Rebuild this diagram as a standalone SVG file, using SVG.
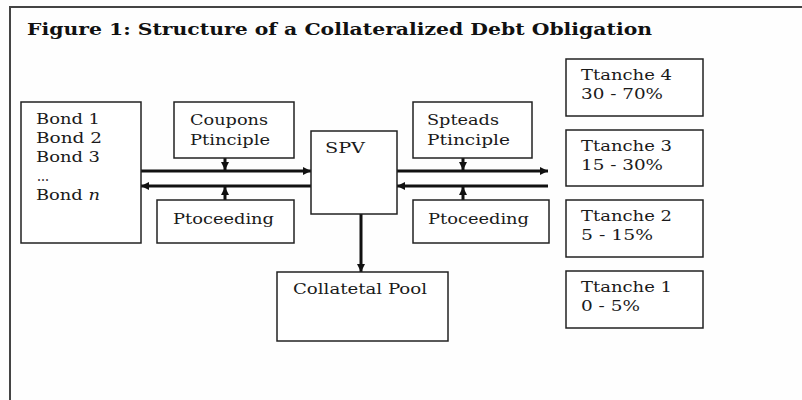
<svg xmlns="http://www.w3.org/2000/svg" width="802" height="400" viewBox="0 0 802 400">
<defs>
<style>
.box{fill:#fff;stroke:#222;stroke-width:1.5}
.t{font-family:"DejaVu Serif","Liberation Serif",serif;font-size:15px;fill:#1a1a1a}
.title{font-family:"DejaVu Serif","Liberation Serif",serif;font-size:17px;font-weight:bold;fill:#111}
.ln{stroke:#111;stroke-width:3;fill:none}
.frame{stroke:#444;stroke-width:2;fill:none}
</style>
<marker id="ah" viewBox="0 0 8 8" markerUnits="userSpaceOnUse" markerWidth="8" markerHeight="8" refX="8" refY="4" orient="auto">
<path d="M0,0 L8,4 L0,8 z" fill="#111"/>
</marker>
</defs>
<rect width="802" height="400" fill="#fefefe"/>
<path class="frame" d="M10,400 V7 H802"/>
<text class="title" x="27" y="35" textLength="625" lengthAdjust="spacingAndGlyphs">Figure 1:  Structure of a Collateralized Debt Obligation</text>

<g id="connectors">
<line class="ln" x1="141" y1="171" x2="311" y2="171" marker-end="url(#ah)"/>
<line class="ln" x1="311" y1="186" x2="141" y2="186" marker-end="url(#ah)"/>
<line class="ln" x1="397" y1="171" x2="548" y2="171" marker-end="url(#ah)"/>
<line class="ln" x1="548" y1="186" x2="397" y2="186" marker-end="url(#ah)"/>
<line class="ln" x1="225" y1="158" x2="225" y2="170" marker-end="url(#ah)"/>
<line class="ln" x1="225" y1="200" x2="225" y2="187" marker-end="url(#ah)"/>
<line class="ln" x1="463" y1="158" x2="463" y2="170" marker-end="url(#ah)"/>
<line class="ln" x1="463" y1="200" x2="463" y2="187" marker-end="url(#ah)"/>
<line class="ln" x1="361" y1="214" x2="361" y2="272" marker-end="url(#ah)"/>
</g>

<g id="bonds">
<rect class="box" x="21" y="102" width="120" height="141"/>
<text class="t" x="36" y="124" textLength="64" lengthAdjust="spacingAndGlyphs">Bond 1</text>
<text class="t" x="36" y="143" textLength="66" lengthAdjust="spacingAndGlyphs">Bond 2</text>
<text class="t" x="36" y="162" textLength="64" lengthAdjust="spacingAndGlyphs">Bond 3</text>
<text class="t" x="37" y="181" textLength="12" lengthAdjust="spacingAndGlyphs">...</text>
<text class="t" x="36" y="200" textLength="64" lengthAdjust="spacingAndGlyphs">Bond <tspan font-style="italic">n</tspan></text>
</g>

<g id="coupons">
<rect class="box" x="174" y="102" width="120" height="56"/>
<text class="t" x="190" y="125" textLength="78" lengthAdjust="spacingAndGlyphs">Coupons</text>
<text class="t" x="190" y="145" textLength="80" lengthAdjust="spacingAndGlyphs">Ptinciple</text>
</g>

<g id="proceeding-left">
<rect class="box" x="157" y="200" width="137" height="43"/>
<text class="t" x="173" y="224" textLength="101" lengthAdjust="spacingAndGlyphs">Ptoceeding</text>
</g>

<g id="spv">
<rect class="box" x="311" y="131" width="86" height="83"/>
<text class="t" x="325" y="153" textLength="40" lengthAdjust="spacingAndGlyphs">SPV</text>
</g>

<g id="spreads">
<rect class="box" x="413" y="102" width="119" height="56"/>
<text class="t" x="427" y="125" textLength="72" lengthAdjust="spacingAndGlyphs">Spteads</text>
<text class="t" x="427" y="145" textLength="83" lengthAdjust="spacingAndGlyphs">Ptinciple</text>
</g>

<g id="proceeding-right">
<rect class="box" x="413" y="200" width="136" height="43"/>
<text class="t" x="428" y="224" textLength="101" lengthAdjust="spacingAndGlyphs">Ptoceeding</text>
</g>

<g id="collateral-pool">
<rect class="box" x="277" y="272" width="171" height="69"/>
<text class="t" x="293" y="294" textLength="134" lengthAdjust="spacingAndGlyphs">Collatetal Pool</text>
</g>

<g id="tranche4">
<rect class="box" x="566" y="59" width="137" height="57"/>
<text class="t" x="581" y="80" textLength="91" lengthAdjust="spacingAndGlyphs">Ttanche 4</text>
<text class="t" x="581" y="99" textLength="82" lengthAdjust="spacingAndGlyphs">30 - 70%</text>
</g>
<g id="tranche3">
<rect class="box" x="566" y="130" width="137" height="56"/>
<text class="t" x="581" y="151" textLength="91" lengthAdjust="spacingAndGlyphs">Ttanche 3</text>
<text class="t" x="581" y="170" textLength="82" lengthAdjust="spacingAndGlyphs">15 - 30%</text>
</g>
<g id="tranche2">
<rect class="box" x="566" y="200" width="137" height="57"/>
<text class="t" x="581" y="221" textLength="91" lengthAdjust="spacingAndGlyphs">Ttanche 2</text>
<text class="t" x="581" y="240" textLength="72" lengthAdjust="spacingAndGlyphs">5 - 15%</text>
</g>
<g id="tranche1">
<rect class="box" x="566" y="271" width="137" height="57"/>
<text class="t" x="581" y="292" textLength="91" lengthAdjust="spacingAndGlyphs">Ttanche 1</text>
<text class="t" x="581" y="311" textLength="59" lengthAdjust="spacingAndGlyphs">0 - 5%</text>
</g>
</svg>
